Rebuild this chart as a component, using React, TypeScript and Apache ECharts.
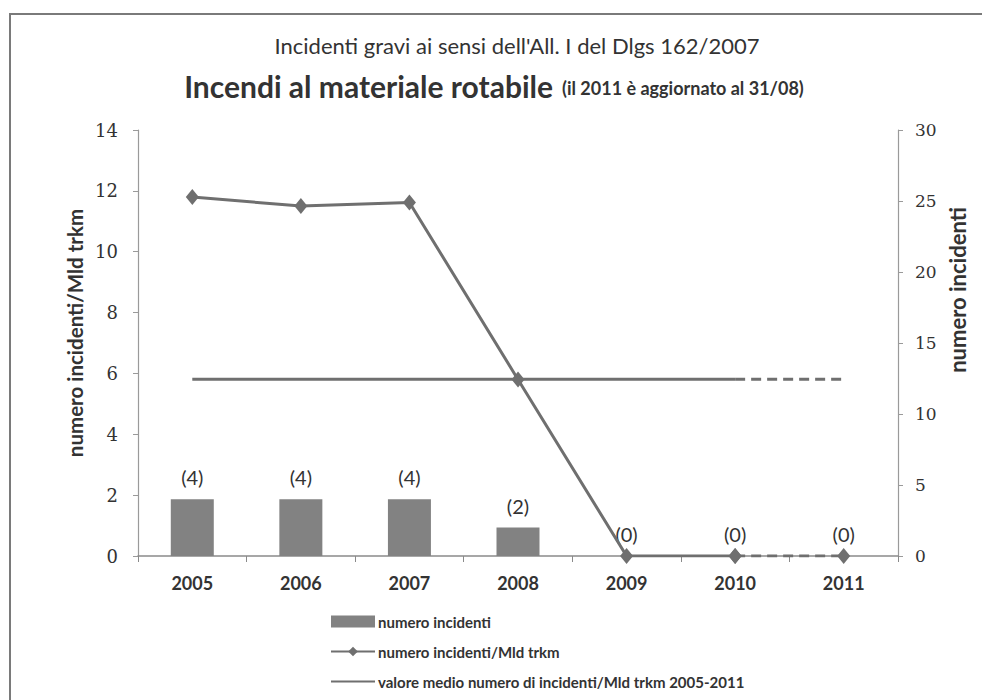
import React, { useEffect, useRef } from "react";
import * as echarts from "echarts";

const years = ["2005", "2006", "2007", "2008", "2009", "2010", "2011"];
// number of serious incidents per year (right axis)
const incidents = [4, 4, 4, 2, 0, 0, 0];
// incidents per billion train-km (left axis)
const ratePerTrkm = [11.8, 11.5, 11.62, 5.8, 0, 0, 0];
// 2005-2011 mean of the rate
const meanRate = [5.81, 5.81, 5.81, 5.81, 5.81, 5.81, 5.81];
const leftTicks = { min: 0, max: 14, interval: 2 };
const rightTicks = { min: 0, max: 30, interval: 5 };

const LBL = "numero incidenti";
const RATE = "numero incidenti/Mld trkm";
const MEAN = "valore medio numero di incidenti/Mld trkm 2005-2011";

const GRAY_BAR = "#828282";
const GRAY_LINE = "#6f6f6f";
const TEXT = "#333333";
const SANS = "Lato, 'Open Sans', sans-serif";
const SERIF = "'DejaVu Serif', 'Liberation Serif', serif";

// last year (2011) is partial, so its segment is drawn dashed
const solidPart = (arr: number[]) => arr.map((v, i) => (i <= 5 ? v : null));
const dashedPart = (arr: number[]) => arr.map((v, i) => (i >= 5 ? v : null));

export default function App() {
  const ref = useRef<HTMLDivElement>(null);

  useEffect(() => {
    if (!ref.current) return;
    const chart = echarts.init(ref.current, null, { renderer: "svg" });
    chart.setOption({
      animation: false,
      backgroundColor: "#ffffff",
      grid: { left: 138, right: 84, top: 130, bottom: 144 },
      legend: {
        orient: "vertical",
        left: 325,
        top: 609,
        itemWidth: 44,
        itemHeight: 12,
        itemGap: 15,
        data: [
          { name: LBL, icon: "rect" },
          { name: RATE },
          { name: MEAN, itemStyle: { opacity: 0 } },
        ],
        textStyle: { fontFamily: SANS, fontSize: 15, fontWeight: "bold", color: TEXT, padding: [0, 0, 0, -2] },
      },
      xAxis: {
        type: "category",
        data: years,
        boundaryGap: true,
        axisLine: { lineStyle: { color: "#8a8a8a", width: 1.5 } },
        axisTick: { show: true, length: 6, lineStyle: { color: "#8a8a8a" } },
        axisLabel: { fontFamily: SANS, fontSize: 18, fontWeight: "bold", color: TEXT, margin: 18 },
        splitLine: { show: false },
      },
      yAxis: [
        {
          type: "value",
          ...leftTicks,
          position: "left",
          axisLine: { show: true, lineStyle: { color: "#9a9a9a", width: 1.2 } },
          axisTick: { show: true, length: 5, lineStyle: { color: "#9a9a9a" } },
          axisLabel: { fontFamily: SERIF, fontSize: 18, color: TEXT, margin: 20 },
          splitLine: { show: false },
        },
        {
          type: "value",
          ...rightTicks,
          position: "right",
          axisLine: { show: true, lineStyle: { color: "#9a9a9a", width: 1.2 } },
          axisTick: { show: true, length: 5, lineStyle: { color: "#9a9a9a" } },
          axisLabel: { fontFamily: SERIF, fontSize: 17, color: TEXT, margin: 17 },
          splitLine: { show: false },
        },
      ],
      series: [
        {
          name: LBL,
          type: "bar",
          yAxisIndex: 1,
          data: incidents,
          barWidth: 43,
          itemStyle: { color: GRAY_BAR },
          label: {
            show: true,
            position: "top",
            distance: 12,
            formatter: (p: any) => `(${p.value})`,
            fontFamily: SANS,
            fontSize: 20,
            color: TEXT,
          },
          z: 1,
        },
        {
          name: MEAN,
          type: "line",
          yAxisIndex: 0,
          data: solidPart(meanRate),
          symbol: "none",
          lineStyle: { color: GRAY_LINE, width: 3 },
          itemStyle: { color: GRAY_LINE },
          z: 2,
        },
        {
          name: MEAN + " (2011)",
          type: "line",
          yAxisIndex: 0,
          data: dashedPart(meanRate),
          symbol: "none",
          lineStyle: { color: GRAY_LINE, width: 3, type: [10, 6] },
          z: 2,
        },
        {
          name: RATE + " (2011)",
          type: "line",
          yAxisIndex: 0,
          data: dashedPart(ratePerTrkm),
          symbol: "diamond",
          symbolSize: [13, 16],
          lineStyle: { color: GRAY_LINE, width: 3, type: [10, 6] },
          itemStyle: { color: GRAY_LINE },
          z: 3,
        },
        {
          name: RATE,
          type: "line",
          yAxisIndex: 0,
          data: solidPart(ratePerTrkm),
          symbol: "diamond",
          symbolSize: [13, 16],
          lineStyle: { color: GRAY_LINE, width: 3 },
          itemStyle: { color: GRAY_LINE },
          z: 4,
        },
      ],
      graphic: [
        {
          type: "polyline",
          shape: { points: [[10, 700], [10, 14], [982, 14]] },
          style: { stroke: "#7a7a7a", lineWidth: 2, fill: "none" },
          silent: true,
        },
        {
          type: "text",
          x: 517,
          y: 45,
          style: {
            text: "Incidenti gravi ai sensi dell'All. I del Dlgs 162/2007",
            fontFamily: SANS,
            fontSize: 22,
            fill: TEXT,
            align: "center",
            verticalAlign: "middle",
          },
        },
        {
          type: "text",
          x: 494,
          y: 86,
          style: {
            text: "{a|Incendi al materiale rotabile}{b|(il 2011 è aggiornato al 31/08)}",
            align: "center",
            verticalAlign: "middle",
            rich: {
              a: { fontFamily: SANS, fontSize: 30, fontWeight: "bold", fill: TEXT, color: TEXT },
              b: { fontFamily: SANS, fontSize: 18, fontWeight: "bold", fill: TEXT, color: TEXT, padding: [4, 0, 0, 9] },
            },
          },
        },
        {
          type: "text",
          x: 75,
          y: 333,
          rotation: Math.PI / 2,
          style: {
            text: RATE,
            fontFamily: SANS,
            fontSize: 20.5,
            fontWeight: "bold",
            fill: TEXT,
            align: "center",
            verticalAlign: "middle",
          },
        },
        {
          type: "text",
          x: 957,
          y: 290,
          rotation: Math.PI / 2,
          style: {
            text: LBL,
            fontFamily: SANS,
            fontSize: 22,
            fontWeight: "bold",
            fill: TEXT,
            align: "center",
            verticalAlign: "middle",
          },
        },
      ],
    });
    return () => chart.dispose();
  }, []);

  return (
    <div
      ref={ref}
      style={{ position: "fixed", left: 0, top: 0, width: 982, height: 700, background: "#fff" }}
    />
  );
}
